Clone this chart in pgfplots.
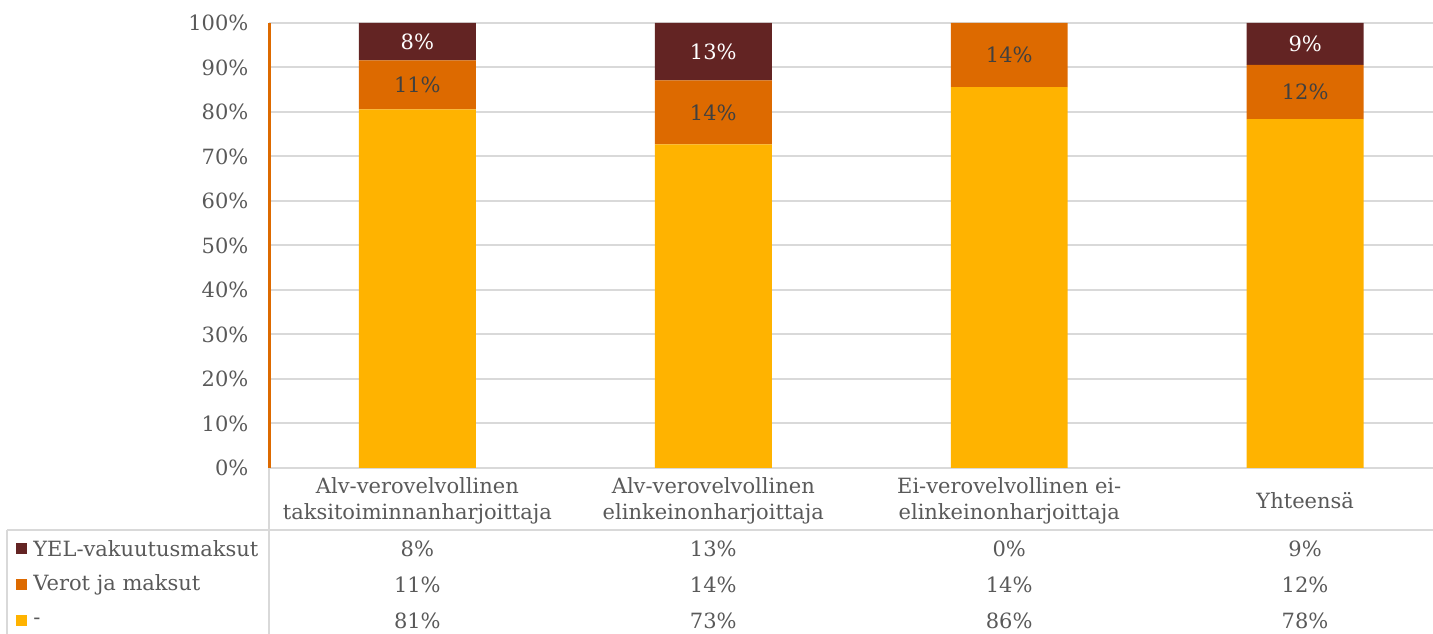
\documentclass[border=0pt]{standalone}
\usepackage{fontspec}
\setmainfont{DejaVu Serif}
\usepackage{pgfplots}
\pgfplotsset{compat=1.18}
\definecolor{yelmaroon}{HTML}{632423}
\definecolor{verotorange}{HTML}{DD6A00}
\definecolor{restyellow}{HTML}{FFB300}
\definecolor{txtgray}{HTML}{595959}
\definecolor{lblgray}{HTML}{404040}
\definecolor{gridgray}{HTML}{D9D9D9}
\newcommand{\fnt}{\fontsize{10.5}{13}\selectfont}
\tikzset{
  rowlabel/.style={font=\fnt, text=txtgray, anchor=west, inner sep=0pt},
  cell/.style={font=\fnt, text=txtgray},
}
\begin{document}
\begin{tikzpicture}
\useasboundingbox (-134.75pt,-83pt) rectangle (582pt,234pt);
\begin{axis}[
  at={(0,0)}, anchor=south west,
  scale only axis, width=582pt, height=222.5pt,
  ybar stacked, bar width=58.5pt,
  xmin=-0.5, xmax=3.432, ymin=0, ymax=100,
  xtick={0,1,2,3},
  xticklabels={{Alv-verovelvollinen\\taksitoiminnanharjoittaja},
               {Alv-verovelvollinen\\elinkeinonharjoittaja},
               {Ei-verovelvollinen ei-\\elinkeinonharjoittaja},
               {Yhteensä}},
  ytick={0,10,...,100},
  yticklabel={\pgfmathprintnumber{\tick}\%},
  /pgf/number format/assume math mode=true,
  tick label style={font=\fnt, text=txtgray},
  major tick length=0pt,
  axis lines*=left,
  x axis line style={gridgray, line width=1pt},
  y axis line style={verotorange, line width=1.2pt},
  ymajorgrids, grid style={gridgray, line width=1pt},
  xticklabel style={align=center, anchor=center, yshift=-16.5pt},
  yticklabel style={xshift=-7pt},
  clip=false,
  barlabel/.style={point meta=explicit symbolic, nodes near coords,
    every node near coord/.append style={anchor=center, font=\fnt, text=#1}},
]
% "-"
\addplot[fill=restyellow, draw=none] coordinates {(0,80.6) (1,72.7) (2,85.6) (3,78.4)};
% Verot ja maksut
\addplot[fill=verotorange, draw=none, barlabel=lblgray] coordinates {(0,11.0)[11\%] (1,14.4)[14\%] (2,14.4)[14\%] (3,12.2)[12\%]};
% YEL-vakuutusmaksut
\addplot[fill=yelmaroon, draw=none, barlabel=white] coordinates {(0,8.4)[8\%] (1,12.9)[13\%] (2,0)[{}] (3,9.4)[9\%]};
\end{axis}
% data table under the chart
\draw[gridgray, line width=1pt] (0,0) -- (0,-83pt);
\draw[gridgray, line width=1pt] (-131pt,-31pt) -- (582pt,-31pt);
\draw[gridgray, line width=1pt] (-131pt,-31pt) -- (-131pt,-83pt);
\fill[yelmaroon] (-126.75pt,-43.25pt) rectangle ++(5.5pt,5.5pt);
\fill[verotorange] (-126.75pt,-61.25pt) rectangle ++(5.5pt,5.5pt);
\fill[restyellow] (-126.75pt,-79.25pt) rectangle ++(5.5pt,5.5pt);
\node[rowlabel] at (-118.25pt,-40.5pt) {YEL-vakuutusmaksut};
\node[rowlabel] at (-118.25pt,-58.5pt) {Verot ja maksut};
\node[rowlabel] at (-118.25pt,-76.5pt) {-};
\foreach \v [count=\i from 0] in {8\%,13\%,0\%,9\%}
  \node[cell] at (74pt+148pt*\i,-40.5pt) {\v};
\foreach \v [count=\i from 0] in {11\%,14\%,14\%,12\%}
  \node[cell] at (74pt+148pt*\i,-58.5pt) {\v};
\foreach \v [count=\i from 0] in {81\%,73\%,86\%,78\%}
  \node[cell] at (74pt+148pt*\i,-76.5pt) {\v};
\end{tikzpicture}
\end{document}
